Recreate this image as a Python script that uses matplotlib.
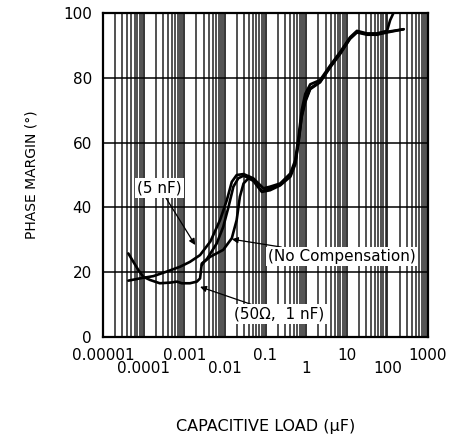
import matplotlib
matplotlib.use("Agg")
import matplotlib.pyplot as plt
from matplotlib.ticker import LogLocator, FixedLocator, NullFormatter

# capacitive load in uF, phase margin in degrees
cap_5nf = [4.2e-5, 8.1e-5, 1.74e-4, 3.7e-4, 7.9e-4, 1.38e-3, 2.45e-3, 4.4e-3,
           7.6e-3, 0.0112, 0.0148, 0.0195, 0.0288, 0.05, 0.089, 0.129, 0.23,
           0.41, 0.54, 0.65, 0.78, 0.95, 1.26, 2.2, 3.9, 6.9, 12, 17.8, 31.6,
           55, 98, 117, 141]
pm_5nf = [17.4, 18.1, 18.8, 20.2, 21.7, 23.2, 25.3, 29.5,
          36.1, 42.3, 47.9, 50.0, 50.3, 49.0, 45.9, 46.4, 47.4,
          50.5, 54.6, 61.8, 70.1, 75.0, 78.0, 79.3, 83.8, 88.0, 92.5, 94.5, 93.7,
          93.7, 94.5, 97.8, 100.0]

cap_50ohm = [4.2e-5, 5.6e-5, 7.4e-5, 9.8e-5, 1.45e-4, 2.5e-4, 4.5e-4, 6.6e-4,
             8.7e-4, 1.38e-3, 2.04e-3, 2.45e-3, 2.7e-3, 3.5e-3, 6.3e-3, 9.1e-3,
             0.0123, 0.0162, 0.0214, 0.0288, 0.05, 0.081, 0.129, 0.23, 0.41,
             0.54, 0.65, 0.78, 0.95, 1.26, 2.2, 3.9, 6.9, 12, 17.8, 31.6, 55, 98,
             251]
pm_50ohm = [25.8, 23.2, 20.7, 18.6, 17.6, 16.6, 16.8, 17.1,
            16.6, 16.6, 17.1, 18.1, 22.7, 23.8, 28.9, 34.0,
            40.2, 46.4, 49.0, 49.8, 48.5, 45.0, 45.8, 47.0, 50.0,
            53.8, 60.5, 68.5, 73.0, 76.8, 78.8, 83.4, 87.6, 92.2, 94.2, 93.5, 93.5, 94.2,
            95.0]

cap_nocomp = [2.7e-3, 3.2e-3, 4.4e-3, 9.1e-3, 0.0148, 0.0195, 0.0234, 0.0288,
              0.038, 0.05, 0.081, 0.129, 0.23, 0.41, 0.54, 0.65, 0.78, 0.95,
              1.26, 2.2, 3.9, 6.9, 12, 17.8, 31.6, 55, 98, 251]
pm_nocomp = [22.2, 23.5, 24.8, 26.9, 30.5, 36.1, 43.3, 47.4,
             49.0, 48.2, 44.8, 45.3, 46.8, 49.5, 53.3, 60.0, 68.0, 72.5,
             76.5, 78.6, 83.2, 87.4, 92.0, 94.0, 93.3, 93.3, 94.0, 95.0]

xtick_vals = [1e-5, 1e-4, 1e-3, 1e-2, 1e-1, 1, 10, 100, 1000]
xtick_top = ["0.00001", "", "0.001", "", "0.1", "", "10", "", "1000"]
xtick_bottom = ["", "0.0001", "", "0.01", "", "1", "", "100", ""]
ytick_vals = [0, 20, 40, 60, 80, 100]

plt.rcParams["font.family"] = ["DejaVu Sans"]

fig = plt.figure(figsize=(4.59, 4.4), dpi=100)
ax = fig.add_axes([0.2244, 0.234, 0.7081, 0.7364])

ax.set_xscale("log")
ax.set_xlim(1e-5, 1000)
ax.set_ylim(0, 100)

ax.xaxis.set_major_locator(FixedLocator(xtick_vals))
ax.xaxis.set_minor_locator(LogLocator(base=10, subs=range(2, 10), numticks=100))
ax.xaxis.set_minor_formatter(NullFormatter())
ax.set_xticklabels(xtick_top)
ax.set_yticks(ytick_vals)
ax.tick_params(axis="both", which="both", length=0, labelsize=11, pad=8)

ax.grid(True, which="major", axis="both", color="black", linewidth=1.1)
ax.grid(True, which="minor", axis="x", color="#222222", linewidth=1.1)
ax.set_axisbelow(True)
for s in ax.spines.values():
    s.set_linewidth(1.6)

# second row of x labels
for v, lab in zip(xtick_vals, xtick_bottom):
    if lab:
        ax.text(v, -0.073, lab, transform=ax.get_xaxis_transform(),
                ha="center", va="top", fontsize=11)

for xs, ys in [(cap_5nf, pm_5nf), (cap_50ohm, pm_50ohm), (cap_nocomp, pm_nocomp)]:
    ax.plot(xs, ys, color="black", linewidth=1.9,
            solid_capstyle="round", solid_joinstyle="round")

box = dict(facecolor="white", edgecolor="none", pad=1.5)
arrow = dict(arrowstyle="-|>", color="black", lw=0.9, mutation_scale=9, shrinkA=0, shrinkB=0)
ax.annotate("(5 nF)", xy=(1.86e-3, 28.4), xytext=(2.5e-4, 46),
            ha="center", va="center", fontsize=11, bbox=box, arrowprops=arrow)
ax.annotate("(No Compensation)", xy=(0.0148, 30.2), xytext=(7.6, 24.8),
            ha="center", va="center", fontsize=11, bbox=box, arrowprops=arrow)
ax.annotate("(50\u03a9,  1 nF)", xy=(2.45e-3, 15.5), xytext=(0.22, 7.1),
            ha="center", va="center", fontsize=11, bbox=box, arrowprops=arrow)

ax.set_ylabel("PHASE MARGIN (\u00b0)", fontsize=10, labelpad=18)
ax.set_xlabel("CAPACITIVE LOAD (\u03bcF)", fontsize=11.5, labelpad=40)

fig.savefig("out.png", dpi=100)
